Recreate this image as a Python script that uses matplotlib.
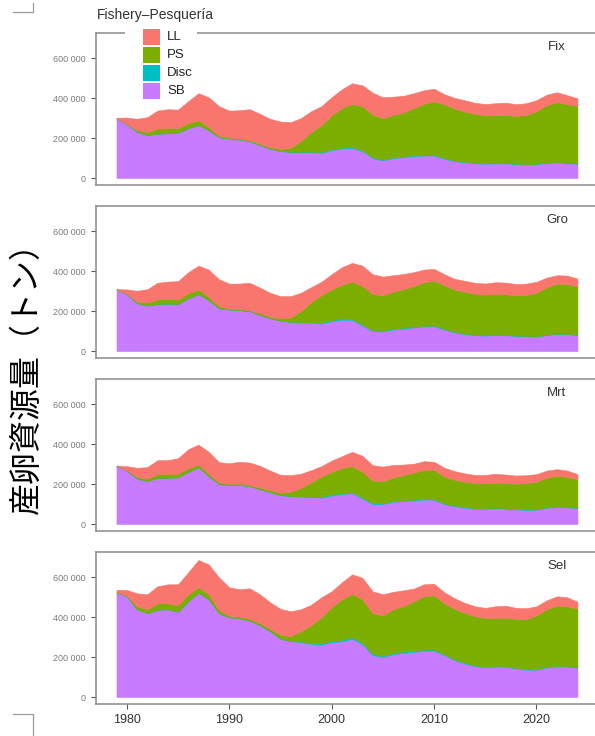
import numpy as np
import matplotlib
matplotlib.use('Agg')
import matplotlib.pyplot as plt
from matplotlib.patches import Rectangle
from matplotlib.lines import Line2D

plt.rcParams['font.family'] = ['Liberation Sans', 'Noto Sans CJK JP', 'DejaVu Sans']

years = np.arange(1979, 2025)

# spawning biomass by fishery, thousand tonnes (stacked: SB, Disc, PS, LL)
fix_sb = [300, 270, 232, 216, 222, 225, 228, 250, 266, 240, 205, 198, 193, 185, 165, 148, 135, 131, 130, 130, 125, 140, 148,
          150, 135, 100, 88, 100, 105, 110, 113, 113, 97, 85, 78, 74, 72, 73, 74, 70, 67, 70, 76, 78, 75, 71]
fix_disc = [0]*17 + [1, 2, 3] + [5]*5 + [4]*7 + [3]*5 + [2]*9
fix_ps = [0, 2, 8, 14, 26, 27, 22, 25, 24, 15, 7, 4, 5, 5, 7, 7, 10, 20, 53, 97, 135, 170, 197,
          216, 220, 214, 208, 212, 219, 236, 255, 267, 270, 260, 252, 245, 240, 240, 240, 239, 247, 263, 287, 300, 293, 288]
fix_ll = [2, 31, 57, 75, 90, 93, 93, 110, 135, 150, 148, 136, 142, 155, 150, 142, 138, 128, 115, 105, 95, 90, 95,
          104, 105, 110, 105, 92, 84, 75, 68, 64, 50, 54, 57, 55, 56, 60, 62, 59, 59, 55, 53, 50, 45, 39]

gro_sb = [310, 285, 240, 228, 237, 238, 236, 265, 285, 255, 215, 208, 205, 200, 180, 165, 152, 146, 143, 142, 138, 150, 157,
          155, 128, 100, 98, 108, 113, 118, 123, 124, 108, 94, 85, 79, 77, 80, 79, 76, 74, 72, 80, 86, 84, 80]
gro_disc = [0]*17 + [1, 2, 3] + [5]*5 + [4]*7 + [3]*5 + [2]*9
gro_ps = [0, 2, 8, 15, 21, 24, 22, 25, 23, 17, 10, 5, 5, 6, 8, 8, 11, 21, 55, 100, 137, 153, 170,
          188, 192, 181, 178, 185, 193, 203, 218, 225, 219, 211, 209, 205, 203, 205, 204, 201, 206, 218, 238, 250, 249, 243]
gro_ll = [0, 22, 54, 67, 84, 86, 92, 105, 120, 136, 135, 125, 128, 136, 130, 119, 112, 107, 92, 75, 67, 77, 88,
          94, 103, 100, 93, 83, 76, 70, 63, 59, 55, 54, 55, 55, 55, 58, 58, 57, 56, 55, 48, 42, 43, 38]

mrt_sb = [293, 268, 228, 215, 232, 232, 235, 262, 285, 240, 200, 197, 197, 190, 175, 160, 145, 140, 137, 135, 133, 143, 150,
          155, 128, 100, 100, 112, 115, 118, 123, 122, 100, 90, 82, 77, 76, 80, 77, 73, 71, 72, 82, 87, 84, 80]
mrt_disc = [0]*17 + [1, 2, 3] + [5]*5 + [4]*7 + [3]*5 + [2]*9
mrt_ps = [0, 2, 8, 13, 18, 20, 17, 18, 13, 12, 8, 5, 5, 6, 8, 10, 12, 21, 41, 72, 100, 114, 125,
          130, 129, 114, 111, 117, 126, 136, 145, 146, 135, 129, 127, 125, 125, 126, 127, 127, 132, 138, 148, 153, 150, 143]
mrt_ll = [0, 20, 46, 57, 70, 68, 78, 95, 100, 110, 102, 103, 110, 112, 109, 98, 90, 83, 72, 60, 52, 56, 60,
          72, 80, 77, 73, 63, 53, 44, 43, 40, 44, 43, 42, 41, 42, 44, 42, 41, 40, 38, 36, 33, 32, 25]

sel_sb = [525, 505, 440, 420, 438, 440, 428, 480, 523, 490, 420, 400, 395, 383, 360, 330, 293, 280, 275, 266, 263, 275, 280,
          292, 265, 210, 200, 215, 222, 226, 232, 232, 210, 185, 168, 155, 150, 152, 152, 143, 137, 137, 148, 153, 152, 147]
sel_disc = [0]*17 + [1, 3, 4] + [7]*5 + [6]*7 + [4]*5 + [3]*9
sel_ps = [2, 3, 15, 20, 32, 30, 32, 35, 27, 25, 15, 8, 8, 9, 10, 12, 19, 24, 52, 90, 130, 168, 203,
          218, 218, 204, 204, 219, 227, 248, 267, 272, 256, 253, 250, 246, 243, 242, 242, 246, 250, 270, 289, 302, 300, 292]
sel_ll = [10, 29, 65, 75, 85, 95, 105, 110, 137, 150, 165, 142, 137, 153, 145, 133, 130, 125, 110, 102, 100, 80, 85,
          98, 108, 110, 105, 87, 80, 63, 60, 58, 55, 53, 50, 50, 50, 58, 61, 55, 55, 45, 45, 47, 45, 36]

panels = [('Fix', fix_sb, fix_disc, fix_ps, fix_ll),
          ('Gro', gro_sb, gro_disc, gro_ps, gro_ll),
          ('Mrt', mrt_sb, mrt_disc, mrt_ps, mrt_ll),
          ('Sel', sel_sb, sel_disc, sel_ps, sel_ll)]

fisheries = ['LL', 'PS', 'Disc', 'SB']
fishery_colors = {'LL': '#F8766D', 'PS': '#7CAE00', 'Disc': '#00BFC4', 'SB': '#C77CFF'}

yticks = [0, 200000, 400000, 600000]
ytick_labels = ['0', '200 000', '400 000', '600 000']
xticks = [1980, 1990, 2000, 2010, 2020]

W, H = 595, 736
fig = plt.figure(figsize=(W / 100, H / 100), dpi=100)


def fx(x):
    return x / W


def fy(y):
    return 1 - y / H


for i, (name, sb, disc, ps, ll) in enumerate(panels):
    top = 33 + 173 * i
    ax = fig.add_axes([fx(96), fy(top + 152), 504 / W, 152 / H])
    layers = np.array([sb, disc, ps, ll]) * 1000
    ax.stackplot(years, layers,
                 colors=[fishery_colors[k] for k in ['SB', 'Disc', 'PS', 'LL']],
                 edgecolor='face', linewidth=0.4)
    ax.set_xlim(1977, 2026.2)
    ax.set_ylim(-35000, 727000)
    ax.set_yticks(yticks)
    ax.set_yticklabels(ytick_labels)
    ax.tick_params(axis='y', length=3.6, width=0.8, color='#555555',
                   labelsize=6.5, labelcolor='#7a7a7a', pad=4)
    if i == len(panels) - 1:
        ax.set_xticks(xticks)
        ax.tick_params(axis='x', length=3.6, width=0.8, color='#555555',
                       labelsize=9, labelcolor='#333333', pad=3.4)
    else:
        ax.set_xticks([])
    for s in ax.spines.values():
        s.set_color('#8a8a8a')
        s.set_linewidth(1.1)
    ax.text(2022, 655000, name, ha='center', va='center', fontsize=9.5, color='#333333')

# legend drawn by hand over the top border of the first panel
fig.add_artist(Rectangle((fx(125), fy(41)), 72 / W, 16 / H, transform=fig.transFigure,
                         facecolor='white', edgecolor='none', zorder=5))
fig.text(fx(97), fy(15), 'Fishery\u2013Pesquer\u00eda', ha='left', va='center',
         fontsize=10, color='#333333')
for j, k in enumerate(fisheries):
    ytop = 29 + 18 * j
    fig.add_artist(Rectangle((fx(143), fy(ytop + 16)), 17 / W, 16 / H, transform=fig.transFigure,
                             facecolor=fishery_colors[k], edgecolor='none', zorder=6))
    fig.text(fx(167), fy(ytop + 8), k, ha='left', va='center', fontsize=9.5,
             color='#222222', zorder=6)

fig.text(fx(27), fy(370), '産卵資源量（トン）', rotation=90, ha='center', va='center',
         fontsize=23, family=['Noto Sans CJK JP'], color='black')

# crop marks at the left edge
for xs, ys in [([13, 33, 33], [11.7, 11.7, 3]), ([13, 33, 33], [714, 714, 736])]:
    fig.add_artist(Line2D([fx(v) for v in xs], [fy(v) for v in ys], color='#9a9a9a', lw=0.9))

fig.savefig('out.png', dpi=100)
